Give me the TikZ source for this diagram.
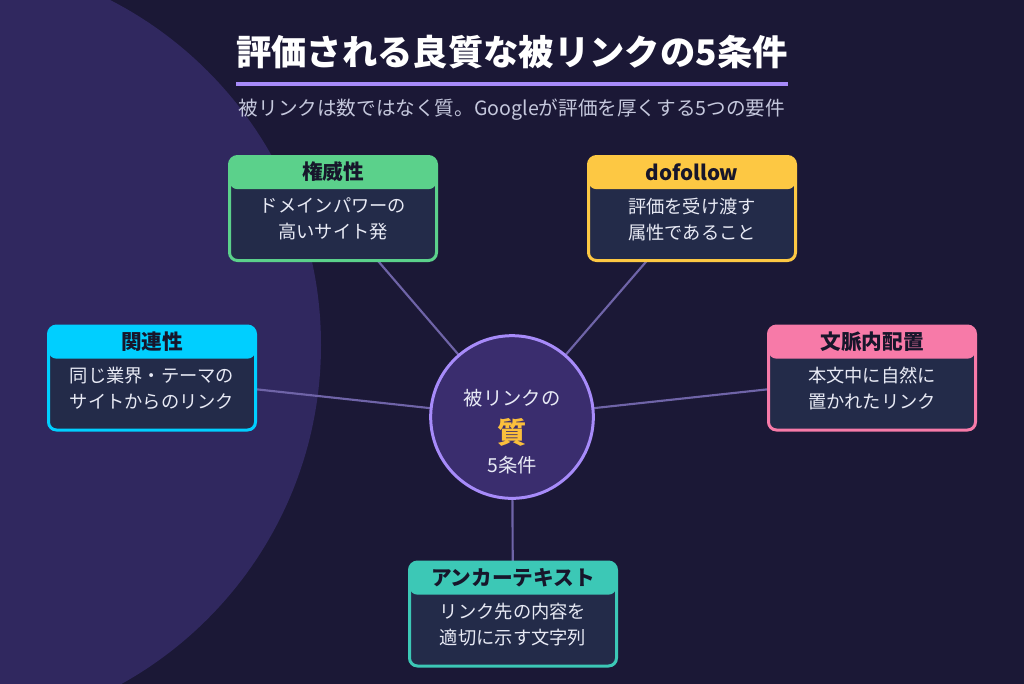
\documentclass[tikz,border=0pt]{standalone}
\usepackage{fontspec}
\setmainfont{Noto Sans CJK JP}
\pgfdeclarelayer{back}
\pgfdeclarelayer{links}
\pgfsetlayers{back,links,main}
\definecolor{bgc}{HTML}{1B1836}
\definecolor{bigc}{HTML}{30285F}
\definecolor{cardbody}{HTML}{232B49}
\definecolor{cgreen}{HTML}{5BD18B}
\definecolor{cyellow}{HTML}{FDC843}
\definecolor{ccyan}{HTML}{00CFFF}
\definecolor{cpink}{HTML}{F77AA8}
\definecolor{cteal}{HTML}{3CC8B6}
\definecolor{linkc}{HTML}{6F64A8}
\definecolor{hubfill}{HTML}{3A2D6E}
\definecolor{lav}{HTML}{A78BFA}
\definecolor{subc}{HTML}{C5C8DD}
\definecolor{bodytxt}{HTML}{E8EAF5}
\definecolor{headtxt}{HTML}{17162B}
\definecolor{gold}{HTML}{FBBF3C}
\begin{document}
\begin{tikzpicture}[x=0.75pt,y=-0.75pt,
  card/.style={draw=#1, fill=cardbody, line width=2.25pt, rounded corners=6pt,
    minimum width=155.25pt, minimum height=78pt, inner sep=0pt,
    path picture={\fill[#1] ([yshift=3pt]path picture bounding box.north west) rectangle ([yshift=-24.5pt]path picture bounding box.north east);}},
  head/.style={text=headtxt, font=\fontsize{15.5pt}{18pt}\selectfont\bfseries, inner sep=0pt},
  body/.style={text=bodytxt, font=\fontsize{13.7pt}{19.5pt}\selectfont, align=center, inner sep=0pt},
  link/.style={draw=linkc, line width=1.6pt},
  hub/.style={circle, draw=lav, fill=hubfill, line width=2.25pt, minimum size=122pt, inner sep=0pt}]
\useasboundingbox (0,0) rectangle (1024,683);
\begin{pgfonlayer}{back}
  \fill[bgc] (-4,-4) rectangle (1028,687);
  \begin{scope}
    \clip (-4,-4) rectangle (1028,687);
    \fill[bigc] (-66.5,345) circle (387.5);
  \end{scope}
\end{pgfonlayer}

% title
\node[text=white, font=\fontsize{26.5pt}{30pt}\selectfont\bfseries, inner sep=0pt] (title) at (512,52) {評価される良質な被リンクの5条件};
\fill[lav] (236,82) rectangle (788,86);
\node[text=subc, font=\fontsize{14.7pt}{17pt}\selectfont, inner sep=0pt] (sub) at (512,110) {被リンクは数ではなく質。Googleが評価を厚くする5つの要件};

% hub
\node[hub] (hub) at (512,417) {};
\node[text=bodytxt, font=\fontsize{14.5pt}{17pt}\selectfont, inner sep=0pt] (hub1) at (512,398) {被リンクの};
\node[text=gold, font=\fontsize{22pt}{26pt}\selectfont\bfseries, inner sep=0pt] (hub2) at (512,432) {質};
\node[text=bodytxt, font=\fontsize{14.5pt}{17pt}\selectfont, inner sep=0pt] (hub3) at (512,465) {5条件};

% cards
\node[card=cgreen] (auth) at (333,208.5) {};
\node[head] (auth-h) at ([yshift=-12.6pt]auth.north) {権威性};
\node[body] (auth-b) at ([yshift=-7.9pt]auth.center) {ドメインパワーの\\高いサイト発};

\node[card=cyellow] (dof) at (692,208.5) {};
\node[head] (dof-h) at ([yshift=-12.6pt]dof.north) {dofollow};
\node[body] (dof-b) at ([yshift=-7.9pt]dof.center) {評価を受け渡す\\属性であること};

\node[card=ccyan] (rel) at (152,378) {};
\node[head] (rel-h) at ([yshift=-12.6pt]rel.north) {関連性};
\node[body] (rel-b) at ([yshift=-7.9pt]rel.center) {同じ業界・テーマの\\サイトからのリンク};

\node[card=cpink] (ctx) at (872,378) {};
\node[head] (ctx-h) at ([yshift=-12.6pt]ctx.north) {文脈内配置};
\node[body] (ctx-b) at ([yshift=-7.9pt]ctx.center) {本文中に自然に\\置かれたリンク};

\node[card=cteal] (anc) at (513,614) {};
\node[head] (anc-h) at ([yshift=-12.6pt]anc.north) {アンカーテキスト};
\node[body] (anc-b) at ([yshift=-7.9pt]anc.center) {リンク先の内容を\\適切に示す文字列};

% links
\begin{pgfonlayer}{links}
  \draw[link] (auth.center) -- (hub.center);
  \draw[link] (dof.center) -- (hub.center);
  \draw[link] (rel.center) -- (hub.center);
  \draw[link] (ctx.center) -- (hub.center);
  \draw[link] (anc.center) -- (hub.center);
\end{pgfonlayer}
\end{tikzpicture}
\end{document}
